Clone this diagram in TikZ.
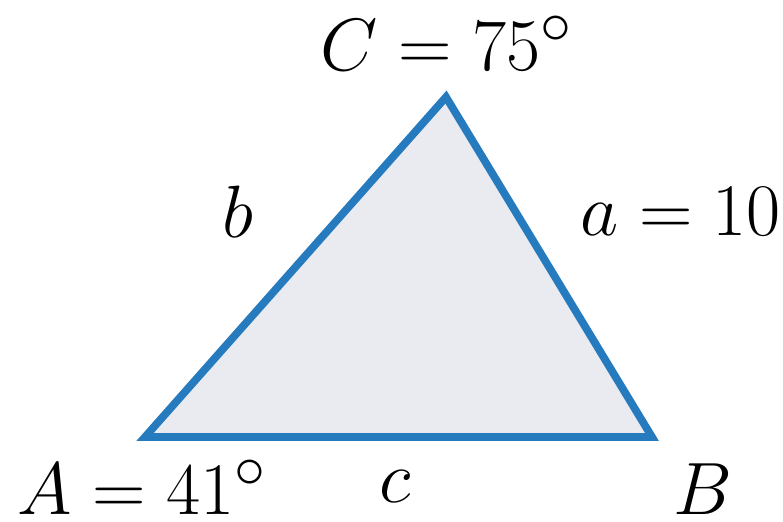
\documentclass[tikz,border=0pt]{standalone}
\usepackage{graphicx}
\definecolor{edgeblue}{RGB}{38,122,190}
\definecolor{facegray}{RGB}{234,234,241}
\newcommand{\bigtxt}[1]{\scalebox{2.12}{\Huge #1}}
\tikzset{lbl/.style={anchor=base,inner sep=0pt}}
\begin{document}
\begin{tikzpicture}[x=0.025cm,y=-0.025cm]
  \useasboundingbox (0,0) rectangle (783,521);
  % vertices
  \coordinate (A) at (145,437);
  \coordinate (B) at (652,437);
  \coordinate (C) at (446,97);
  % triangle
  \fill[facegray] (A) -- (B) -- (C) -- cycle;
  \draw[edgeblue,line width=5.5pt,line join=miter] (A) -- (B) -- (C) -- cycle;
  % angle labels
  \node[lbl] (lC) at (447,70) {\bigtxt{$C=75^\circ$}};
  \node[lbl] (lA) at (142,514) {\bigtxt{$A=41^\circ$}};
  \node[lbl] (lB) at (703,514) {\bigtxt{$B$}};
  % side labels
  \node[lbl] (lb) at (238,237) {\bigtxt{$b$}};
  \node[lbl,anchor=base west] (la) at (580,235) {\bigtxt{$a=10$}};
  \node[lbl] (lc) at (395,502) {\bigtxt{$c$}};
\end{tikzpicture}
\end{document}
